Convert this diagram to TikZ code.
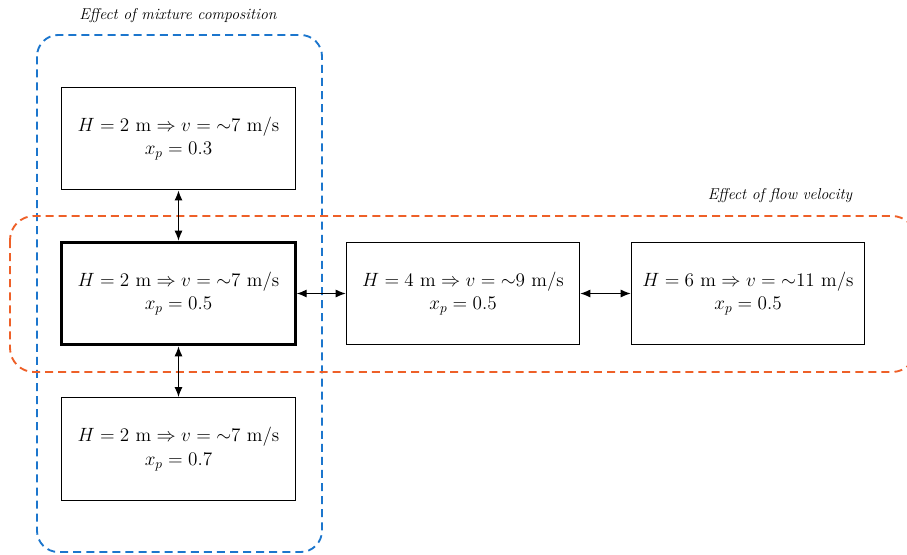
\documentclass[tikz,border=0pt]{standalone}
\usepackage{amsmath}
\usetikzlibrary{arrows.meta}
\definecolor{grpblue}{RGB}{28,118,205}
\definecolor{grporange}{RGB}{238,96,40}

\begin{document}
\begin{tikzpicture}[x=0.75pt,y=0.75pt,yscale=-1,xscale=1,
  block/.style={draw, line width=0.9pt, fill=white, minimum width=175pt, minimum height=77pt, align=center, inner sep=0.75pt, font=\fontsize{14.5}{17.5}\selectfont},
  mainblock/.style={block, line width=2.2pt},
  link/.style={line width=0.9pt, {Latex[length=7.5pt,width=6pt]}-{Latex[length=7.5pt,width=6pt]}},
  bluegroup/.style={draw=grpblue, line width=1.4pt, dash pattern=on 6pt off 3.8pt, rounded corners=16pt},
  orangegroup/.style={draw=grporange, line width=1.4pt, dash pattern=on 6pt off 3.8pt, rounded corners=18pt},
  grouplabel/.style={inner sep=0.75pt, font=\fontsize{11.8}{14}\selectfont\itshape}]
\useasboundingbox (0,0) rectangle (907,554);

%Shape: Rounded Rectangle [mixture composition]
\draw [bluegroup] (37,35) rectangle (322,552);
%Shape: Rounded Rectangle [flow velocity]
\draw [orangegroup] (10,216) rectangle (916,372);

% Text Node
\node [grouplabel] (lblmix) at (178,16) {Effect of mixture composition};
% Text Node
\node [grouplabel] (lblflow) at (780,196) {Effect of flow velocity};

% Blocks
\node [block] (xp3) at (178.5,138.5) {$H = 2~\mathrm{m} \Rightarrow v = {\sim}7~\mathrm{m/s}$\\ $x_p = 0.3$};
\node [mainblock] (ref) at (178.5,293.5) {$H = 2~\mathrm{m} \Rightarrow v = {\sim}7~\mathrm{m/s}$\\ $x_p = 0.5$};
\node [block] (xp7) at (178.5,449) {$H = 2~\mathrm{m} \Rightarrow v = {\sim}7~\mathrm{m/s}$\\ $x_p = 0.7$};
\node [block] (h4) at (463,293.5) {$H = 4~\mathrm{m} \Rightarrow v = {\sim}9~\mathrm{m/s}$\\ $x_p = 0.5$};
\node [block] (h6) at (748,293.5) {$H = 6~\mathrm{m} \Rightarrow v = {\sim}11~\mathrm{m/s}$\\ $x_p = 0.5$};

% Links
\draw [link] (xp3.south) -- (ref.north);
\draw [link] (ref.south) -- (xp7.north);
\draw [link] (ref.east) -- (h4.west);
\draw [link] (h4.east) -- (h6.west);

\end{tikzpicture}
\end{document}
